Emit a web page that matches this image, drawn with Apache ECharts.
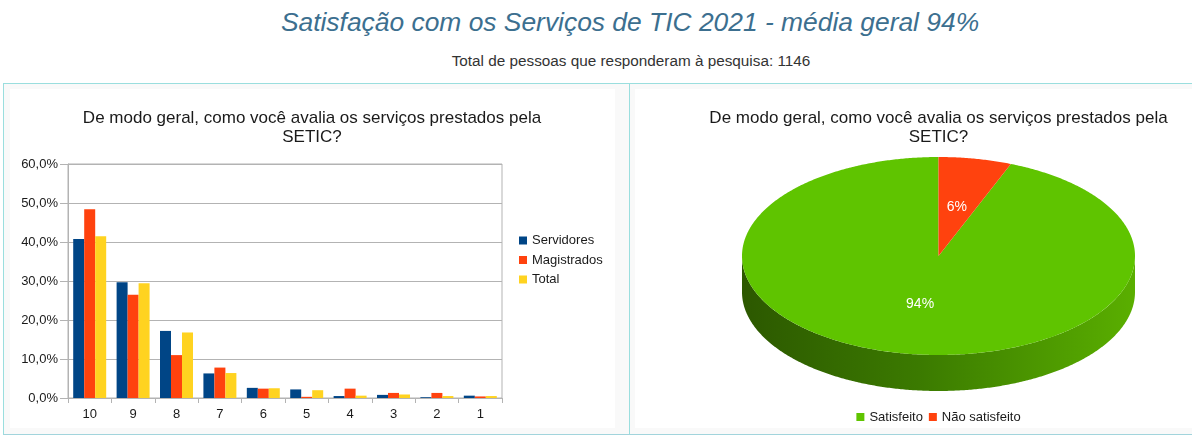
<!DOCTYPE html>
<html>
<head>
<meta charset="utf-8">
<script src="https://cdn.jsdelivr.net/npm/echarts@6/dist/echarts.min.js"></script>
<style>
  html, body { margin:0; padding:0; background:#fff; overflow:hidden; width:1192px; height:444px; }
  #page { position:relative; width:1258px; height:444px; font-family:'Liberation Sans', Arial, sans-serif; }
  #title { position:absolute; left:0; width:1260px; top:5px; text-align:center; font-style:italic; font-size:26.4px; line-height:34px; color:#3c6f8f; }
  #subtitle { position:absolute; left:0; width:1262px; top:52px; text-align:center; font-size:15.3px; line-height:18px; color:#333; }
  #frame { position:absolute; left:3px; top:83px; width:1252px; height:350px; border:1px solid #9adede; border-bottom-color:#a2d4dc; }
  #divider { position:absolute; left:629px; top:84px; width:1px; height:350px; background:#9adede; }
  #lp { position:absolute; left:4px; top:84px; width:625px; height:350px; background:#f9f9f9; }
  #rp { position:absolute; left:630px; top:84px; width:625px; height:350px; background:#f9f9f9; }
  #c1 { position:absolute; left:10px; top:89px; width:605px; height:339px; background:#fff; }
  #c2 { position:absolute; left:635px; top:89px; width:607px; height:339px; background:#fff; }
</style>
</head>
<body>
<div id="page">
  <div id="title">Satisfação com os Serviços de TIC 2021 - média geral 94%</div>
  <div id="subtitle">Total de pessoas que responderam à pesquisa: 1146</div>
  <div id="frame"></div>
  <div id="lp"></div>
  <div id="rp"></div>
  <div id="divider"></div>
  <div id="c1"></div>
  <div id="c2"></div>
</div>
<script>
const chartTitle = 'De modo geral, como você avalia os serviços prestados pela\nSETIC?';
const categories = ['10', '9', '8', '7', '6', '5', '4', '3', '2', '1'];
const servidores = [40.8, 29.7, 17.2, 6.3, 2.6, 2.2, 0.5, 0.8, 0.2, 0.6];
const magistrados = [48.4, 26.5, 11.0, 7.8, 2.4, 0.3, 2.4, 1.3, 1.3, 0.4];
const total = [41.5, 29.4, 16.8, 6.4, 2.5, 2.0, 0.6, 0.9, 0.5, 0.5];
const seriesNames = ['Servidores', 'Magistrados', 'Total'];
const yMin = 0, yMax = 60, yStep = 10;

const pieNames = ['Satisfeito', 'Não satisfeito'];
const pieValues = [94, 6];

const FONT = "'Liberation Sans', Arial, sans-serif";
const barColors = ['#004586', '#ff420e', '#ffd320'];
const pieColors = ['#5fc400', '#ff420e'];

function titleGraphic(cxPos) {
  return [{
    type: 'text', x: cxPos, y: 19.5, silent: true,
    style: {
      text: chartTitle, x: 0, y: 0, align: 'center', verticalAlign: 'top',
      fontFamily: FONT, fontSize: 17, lineHeight: 19, fill: '#1a1a1a'
    }
  }];
}

// ---------- Bar chart ----------
const c1 = echarts.init(document.getElementById('c1'));
c1.setOption({
  animation: false,
  textStyle: { fontFamily: FONT },
  graphic: titleGraphic(302),
  legend: {
    orient: 'vertical', left: 509, top: 145, padding: 0, itemWidth: 8, itemHeight: 8, itemGap: 6.5,
    icon: 'rect', data: seriesNames,
    textStyle: { fontFamily: FONT, fontSize: 13, color: '#1a1a1a', lineHeight: 13 }
  },
  grid: { left: 58, top: 75, right: 113, bottom: 30, show: true, borderColor: '#b3b3b3', borderWidth: 1, backgroundColor: 'transparent' },
  xAxis: {
    type: 'category', data: categories,
    axisLine: { lineStyle: { color: '#b3b3b3' } },
    axisTick: { show: true, length: 5, lineStyle: { color: '#b3b3b3' } },
    axisLabel: { color: '#1a1a1a', fontSize: 13, margin: 10, fontFamily: FONT }
  },
  yAxis: {
    type: 'value', min: yMin, max: yMax, interval: yStep,
    axisLine: { show: true, lineStyle: { color: '#b3b3b3' } },
    axisTick: { show: true, length: 8, lineStyle: { color: '#b3b3b3' } },
    splitLine: { lineStyle: { color: '#b3b3b3' } },
    axisLabel: { color: '#1a1a1a', fontSize: 13, margin: 10, fontFamily: FONT,
      formatter: v => v.toFixed(1).replace('.', ',') + '%' }
  },
  series: [servidores, magistrados, total].map((d, i) => ({
    name: seriesNames[i], type: 'bar', data: d,
    barGap: '0%', barCategoryGap: '24%',
    itemStyle: { color: barColors[i] }
  }))
});

// ---------- 3D pie ----------
const c2 = echarts.init(document.getElementById('c2'));
const cx = 303.5, cy = 167, rx = 196.5, ry = 99, depth = 36;
const pieSum = pieValues.reduce((a, b) => a + b, 0);
function pt(deg, dy) {
  const t = deg * Math.PI / 180;
  return [cx + rx * Math.sin(t), cy - ry * Math.cos(t) + (dy || 0)];
}
function cumBefore(idx) {
  let s = 0;
  for (let i = 0; i < idx; i++) s += pieValues[i];
  return s;
}
function sliceRange(idx, val) {
  const s = cumBefore(idx) / pieSum, e = (cumBefore(idx) + val) / pieSum;
  return [360 * (1 - e), 360 * (1 - s)];
}
function arcPoints(a, b, dy) {
  const pts = [];
  const n = Math.max(2, Math.ceil(Math.abs(b - a) / 0.5));
  for (let k = 0; k <= n; k++) pts.push(pt(a + (b - a) * k / n, dy));
  return pts;
}
const sideGradients = [
  new echarts.graphic.LinearGradient(0, 0, 1, 0, [
    { offset: 0, color: '#2c5800' }, { offset: 0.45, color: '#3b7a00' }, { offset: 1, color: '#5aaf00' }]),
  new echarts.graphic.LinearGradient(0, 0, 1, 0, [
    { offset: 0, color: '#8a2406' }, { offset: 1, color: '#c8330b' }])
];

c2.setOption({
  animation: false,
  textStyle: { fontFamily: FONT },
  graphic: titleGraphic(303.5),
  legend: {
    left: 'center', top: 321.5, padding: 0, itemWidth: 8, itemHeight: 8, itemGap: 6, icon: 'rect',
    data: pieNames, selectedMode: false,
    textStyle: { fontFamily: FONT, fontSize: 13, color: '#1a1a1a' }
  },
  series: [
    {
      type: 'pie', radius: [0, 0], center: [cx, cy], silent: true,
      label: { show: false }, labelLine: { show: false },
      data: pieNames.map((n, i) => ({ name: n, value: pieValues[i], itemStyle: { color: pieColors[i] } }))
    },
    {
      type: 'custom', coordinateSystem: 'none', silent: true,
      data: pieValues.map((v, i) => [v, i]),
      renderItem: function (params, api) {
        const v = api.value(0), idx = api.value(1);
        const [a, b] = sliceRange(idx, v);
        const children = [];
        const lo = Math.max(a, 90), hi = Math.min(b, 270);
        if (lo < hi) {
          const top = arcPoints(lo, hi, 0);
          const bot = arcPoints(hi, lo, depth);
          children.push({
            type: 'polygon', z2: 1,
            shape: { points: top.concat(bot) },
            style: { fill: sideGradients[idx] || pieColors[idx] }
          });
        }
        const face = [[cx, cy]].concat(arcPoints(a, b, 0));
        children.push({
          type: 'polygon', z2: 2,
          shape: { points: face },
          style: { fill: pieColors[idx] }
        });
        const mid = (a + b) / 2 * Math.PI / 180;
        const lx = cx + 0.5 * rx * Math.sin(mid), ly = cy - 0.5 * ry * Math.cos(mid);
        children.push({
          type: 'text', z2: 3,
          style: {
            text: Math.round(v / pieSum * 100) + '%', x: lx, y: ly,
            fill: '#ffffff', fontSize: 14, fontFamily: FONT, align: 'center', verticalAlign: 'middle'
          }
        });
        return { type: 'group', children: children };
      }
    }
  ]
});
</script>
</body>
</html>
